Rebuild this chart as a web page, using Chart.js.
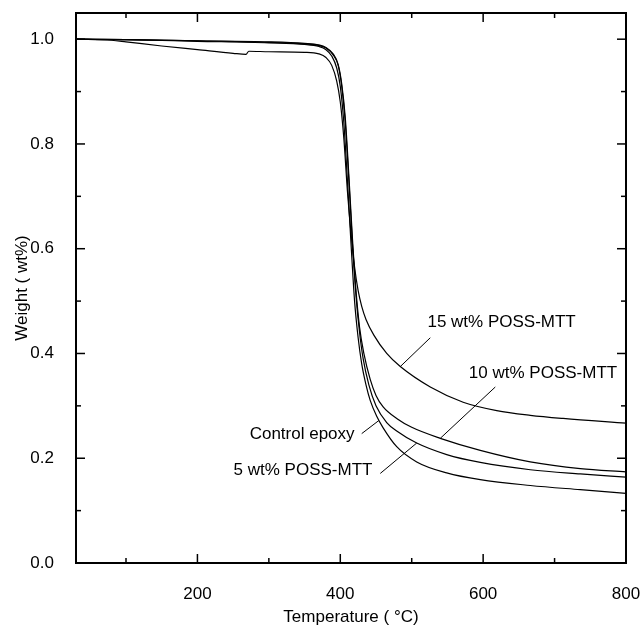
<!DOCTYPE html>
<html>
<head>
<meta charset="utf-8">
<script src="https://cdn.jsdelivr.net/npm/chart.js@4.4.0/dist/chart.umd.min.js"></script>
<style>
  html, body { margin: 0; padding: 0; background: #fff; }
</style>
</head>
<body>
<canvas id="chart-tga" width="642" height="626"></canvas>
<script>
// ── data ──
const tControl = [30, 100, 200, 300, 350, 370, 380, 388, 395, 400, 405, 410, 415, 420, 425, 430, 436, 442, 451, 460, 479, 507, 549, 596, 666, 736, 800];
const wControl = [1.0, 0.999, 0.996, 0.993, 0.990, 0.986, 0.980, 0.968, 0.945, 0.910, 0.840, 0.730, 0.610, 0.500, 0.430, 0.380, 0.340, 0.310, 0.280, 0.258, 0.222, 0.193, 0.172, 0.159, 0.148, 0.140, 0.133];

const t5 = [30, 100, 200, 300, 350, 370, 380, 390, 397, 402, 407, 412, 417, 422, 427, 432, 440, 450, 465, 479, 507, 549, 596, 666, 736, 800];
const w5 = [1.0, 0.999, 0.997, 0.994, 0.991, 0.988, 0.983, 0.970, 0.950, 0.910, 0.840, 0.730, 0.610, 0.510, 0.440, 0.390, 0.340, 0.300, 0.268, 0.252, 0.229, 0.207, 0.192, 0.178, 0.170, 0.164];

const t10 = [30, 100, 200, 300, 350, 370, 380, 390, 397, 402, 407, 412, 417, 422, 427, 433, 442, 450, 460, 480, 500, 540, 596, 666, 736, 800];
const w10 = [1.0, 0.999, 0.997, 0.995, 0.992, 0.989, 0.984, 0.972, 0.952, 0.915, 0.850, 0.740, 0.620, 0.520, 0.450, 0.400, 0.350, 0.320, 0.298, 0.275, 0.259, 0.238, 0.215, 0.193, 0.180, 0.174];

const t15 = [30, 80, 100, 150, 200, 250, 268, 272, 300, 350, 370, 380, 388, 395, 400, 405, 410, 415, 420, 425, 430, 436, 447, 465, 484, 526, 572, 619, 666, 712, 800];
const w15 = [1.0, 0.998, 0.995, 0.987, 0.980, 0.973, 0.971, 0.977, 0.976, 0.975, 0.972, 0.965, 0.950, 0.920, 0.880, 0.810, 0.710, 0.630, 0.565, 0.520, 0.490, 0.465, 0.435, 0.400, 0.375, 0.336, 0.307, 0.291, 0.282, 0.276, 0.267];

const xTicks = [200, 400, 600, 800];
const xMinor = [100, 300, 500, 700];
const yTicks = [0.0, 0.2, 0.4, 0.6, 0.8, 1.0];
const yMinor = [0.1, 0.3, 0.5, 0.7, 0.9];

// labels with leader lines, in data units
const notes = [
  { text: '15 wt% POSS-MTT', at: [522, 0.459], align: 'left',  from: [526, 0.430], to: [484, 0.375] },
  { text: '10 wt% POSS-MTT', at: [580, 0.362], align: 'left',  from: [617, 0.336], to: [540, 0.238] },
  { text: 'Control epoxy',   at: [420, 0.246], align: 'right', from: [430, 0.247], to: [454, 0.272] },
  { text: '5 wt% POSS-MTT',  at: [445, 0.176], align: 'right', from: [456, 0.171], to: [507, 0.229] },
];

const FONT = '"Liberation Sans", Arial, sans-serif';
const pts = (ts, ws) => ts.map((t, i) => ({ x: t, y: ws[i] }));
const curve = (label, ts, ws) => ({
  label, data: pts(ts, ws),
  borderColor: '#000', borderWidth: 1.2, pointRadius: 0,
  cubicInterpolationMode: 'monotone', fill: false,
});

// frame, inward ticks and the leader-line labels
const framePlugin = {
  id: 'frame',
  afterDatasetsDraw(chart) {
    const { ctx, chartArea: a, scales: { x, y } } = chart;
    const line = (x1, y1, x2, y2) => { ctx.beginPath(); ctx.moveTo(x1, y1); ctx.lineTo(x2, y2); ctx.stroke(); };
    ctx.save();
    ctx.strokeStyle = '#000';
    ctx.lineWidth = 2;
    ctx.strokeRect(a.left, a.top, a.right - a.left, a.bottom - a.top);

    ctx.lineWidth = 1.5;
    const xt = (v, len) => { const p = x.getPixelForValue(v); line(p, a.bottom, p, a.bottom - len); line(p, a.top, p, a.top + len); };
    const yt = (v, len) => { const p = y.getPixelForValue(v); line(a.left, p, a.left + len, p); line(a.right, p, a.right - len, p); };
    xTicks.forEach(v => xt(v, 9));
    xMinor.forEach(v => xt(v, 5));
    yTicks.forEach(v => yt(v, 9));
    yMinor.forEach(v => yt(v, 5));

    ctx.lineWidth = 1;
    ctx.fillStyle = '#000';
    ctx.font = '17px ' + FONT;
    ctx.textBaseline = 'middle';
    notes.forEach(n => {
      line(x.getPixelForValue(n.from[0]), y.getPixelForValue(n.from[1]),
           x.getPixelForValue(n.to[0]), y.getPixelForValue(n.to[1]));
      ctx.textAlign = n.align;
      ctx.fillText(n.text, x.getPixelForValue(n.at[0]), y.getPixelForValue(n.at[1]));
    });
    ctx.restore();
  }
};

const noPad = s => { s.paddingLeft = 0; s.paddingRight = 0; s.paddingTop = 0; s.paddingBottom = 0; };

new Chart(document.getElementById('chart-tga'), {
  type: 'line',
  data: {
    datasets: [
      curve('Control epoxy', tControl, wControl),
      curve('5 wt% POSS-MTT', t5, w5),
      curve('10 wt% POSS-MTT', t10, w10),
      curve('15 wt% POSS-MTT', t15, w15),
    ]
  },
  options: {
    responsive: false, animation: false, devicePixelRatio: 1,
    layout: { padding: { left: 0, right: 16, top: 13, bottom: 0 } },
    plugins: { legend: { display: false }, tooltip: { enabled: false } },
    scales: {
      x: {
        type: 'linear', min: 30, max: 800,
        grid: { display: false }, border: { display: false },
        afterBuildTicks: s => { s.ticks = xTicks.map(v => ({ value: v })); },
        afterFit: s => { s.height = 63; noPad(s); },
        ticks: { color: '#000', padding: 13, font: { family: FONT, size: 17 }, maxRotation: 0 },
        title: { display: true, text: 'Temperature ( °C)', color: '#000', padding: { top: 0, bottom: 0 }, font: { family: FONT, size: 17, lineHeight: 1 } },
      },
      y: {
        min: 0, max: 1.05,
        grid: { display: false }, border: { display: false },
        afterBuildTicks: s => { s.ticks = yTicks.map(v => ({ value: v })); },
        afterFit: s => { s.width = 76; noPad(s); },
        ticks: { color: '#000', padding: 14, font: { family: FONT, size: 17 }, callback: v => v.toFixed(1) },
        title: { display: true, text: 'Weight ( wt%)', color: '#000', padding: { top: 13.5, bottom: 0 }, font: { family: FONT, size: 17, lineHeight: 1 } },
      }
    }
  },
  plugins: [framePlugin]
});
</script>
</body>
</html>
